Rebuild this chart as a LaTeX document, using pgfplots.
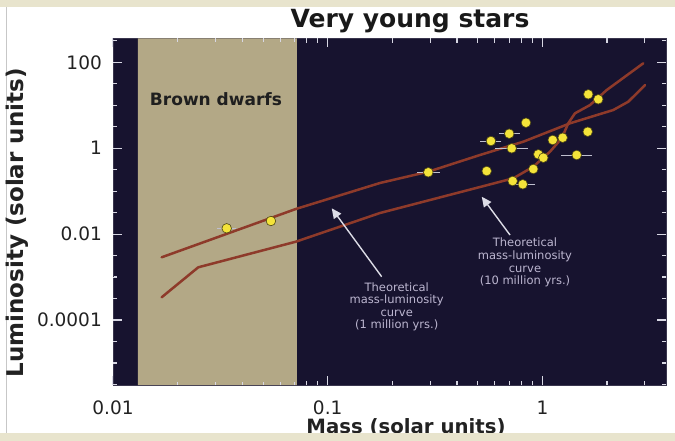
\documentclass[border=0pt]{standalone}
\usepackage{fontspec}
\setmainfont{DejaVu Sans}
\usepackage{pgfplots}
\pgfplotsset{compat=1.18}
\usetikzlibrary{arrows.meta}
\definecolor{navy}{HTML}{17132F}
\definecolor{tanbox}{HTML}{B3A886}
\definecolor{curvec}{HTML}{8E3A2A}
\definecolor{starfill}{HTML}{F4E33A}
\definecolor{staredge}{HTML}{4A4515}
\definecolor{errc}{HTML}{BFBFCF}
\definecolor{annot}{HTML}{BCB6D0}
\definecolor{arrowc}{HTML}{DCDCE6}
\definecolor{tickc}{HTML}{D8D8E4}
\definecolor{beige}{HTML}{E8E4CD}
\definecolor{labc}{HTML}{222222}
\begin{document}
\begin{tikzpicture}
\path[use as bounding box] (0,0) rectangle (675bp,441bp);
\draw[black!22, line width=0.8bp] (6.7bp,8bp) -- (6.7bp,434bp);
\node[anchor=base, font=\bfseries\fontsize{25bp}{30bp}\selectfont, text=black!90] at (410bp,413bp) {Very young stars};
\begin{axis}[
  at={(113bp,56bp)}, anchor=south west,
  scale only axis, width=553bp, height=346.7bp,
  xmode=log, ymode=log,
  xmin=0.01, xmax=3.765, ymin=3.07e-6, ymax=362,
  axis background/.style={fill=navy},
  axis line style={draw=navy!85!white},
  xtick={0.01,0.1,1}, xticklabels={0.01,0.1,1},
  minor xtick={0.02,0.03,0.04,0.05,0.06,0.07,0.08,0.09,0.2,0.3,0.4,0.5,0.6,0.7,0.8,0.9,2,3},
  ytick={1e-4,1e-2,1,100}, yticklabels={0.0001,0.01,1,100},
  minor ytick={3.162e-6,1e-5,3.162e-5,3.162e-4,1e-3,3.162e-3,3.162e-2,0.1,0.3162,3.162,10,31.62,316.2},
  every tick/.style={tickc, line width=1.2bp},
  major tick length=9bp, minor tick length=4.5bp,
  xticklabel style={anchor=north, inner sep=0pt, yshift=-16bp, text=labc, font=\fontsize{18.5bp}{22bp}\selectfont},
  yticklabel style={anchor=east, inner sep=0pt, xshift=-11bp, text=labc, font=\fontsize{18.5bp}{22bp}\selectfont},
]
% brown dwarf region
\addplot[fill=tanbox, draw=none] coordinates {(0.01306,3.07e-6) (0.01306,362) (0.0719,362) (0.0719,3.07e-6) (0.01306,3.07e-6)};
% tick marks, lengths in fixed units
\pgfplotsinvokeforeach{1e-4,1e-2,1,100}{
  \draw[tickc, line width=1.2bp] (axis cs:0.01,#1) -- ([xshift=9bp]axis cs:0.01,#1);
  \draw[tickc, line width=1.2bp] (axis cs:3.765,#1) -- ([xshift=-9bp]axis cs:3.765,#1);
}
\pgfplotsinvokeforeach{3.162e-6,1e-5,3.162e-5,3.162e-4,1e-3,3.162e-3,3.162e-2,0.1,0.3162,3.162,10,31.62,316.2}{
  \draw[tickc, line width=1.1bp] (axis cs:0.01,#1) -- ([xshift=4.5bp]axis cs:0.01,#1);
  \draw[tickc, line width=1.1bp] (axis cs:3.765,#1) -- ([xshift=-4.5bp]axis cs:3.765,#1);
}
\pgfplotsinvokeforeach{0.1,1}{
  \draw[tickc, line width=1.2bp] (axis cs:#1,3.07e-6) -- ([yshift=7bp]axis cs:#1,3.07e-6);
  \draw[tickc, line width=1.2bp] (axis cs:#1,362) -- ([yshift=-7bp]axis cs:#1,362);
}
\pgfplotsinvokeforeach{0.02,0.03,0.04,0.05,0.06,0.07,0.08,0.09,0.2,0.3,0.4,0.5,0.6,0.7,0.8,0.9,2,3}{
  \draw[tickc, line width=1.1bp] (axis cs:#1,3.07e-6) -- ([yshift=3.5bp]axis cs:#1,3.07e-6);
  \draw[tickc, line width=1.1bp] (axis cs:#1,362) -- ([yshift=-3.5bp]axis cs:#1,362);
}
% 1 million yrs curve
\addplot[curvec, line width=2.5bp, line join=round, line cap=round] coordinates {
(0.01685,0.002884) (0.0710,0.0384) (0.1752,0.1549) (0.2941,0.2838) (0.5123,0.695)
(0.8147,1.417) (1.345,3.80) (2.139,7.75) (2.513,12.1) (3.006,29.6)};
% 10 million yrs curve
\addplot[curvec, line width=2.5bp, line join=round, line cap=round] coordinates {
(0.01685,0.000338) (0.02495,0.001687) (0.0710,0.00665) (0.1752,0.031) (0.5123,0.125)
(0.732,0.199) (0.907,0.371) (1.085,0.829) (1.230,1.70) (1.320,3.80) (1.418,6.49)
(1.666,10.1) (1.993,22.6) (2.951,94.8)};
% stars with horizontal error bars
\addplot[only marks, mark=*, mark size=4.8bp, mark options={fill=starfill, draw=staredge, line width=0.6bp},
  error bars/.cd, x dir=both, x explicit,
  error bar style={color=errc, line width=0.9bp},
  error mark options={color=errc, line width=0.9bp, mark size=3.5bp}]
coordinates {
(0.03385,0.01365) += (0.00225,0) -= (0.00211,0)
(0.2941,0.275) += (0.0264,0) -= (0.0242,0)
(0.576,1.471) += (0.0449,0) -= (0.0417,0)
(0.701,2.176) += (0.0547,0) -= (0.0507,0)
(0.7194,0.995) += (0.108,0) -= (0.0938,0)
(0.81,0.1444) += (0.082,0) -= (0.074,0)
(1.445,0.695) += (0.198,0) -= (0.174,0)
};
% stars without error bars
\addplot[only marks, mark=*, mark size=4.8bp, mark options={fill=starfill, draw=staredge, line width=0.6bp}]
coordinates {
(0.0544,0.0202) (0.5503,0.294) (0.8386,3.92) (0.727,0.1723) (0.907,0.328)
(0.957,0.721) (1.01,0.601) (1.117,1.552) (1.243,1.756) (1.636,17.98)
(1.821,13.76) (1.626,2.42)};
% labels and arrows
\node[font=\bfseries\fontsize{17bp}{20bp}\selectfont, text=black!88] at (axis cs:0.03018,13.98) {Brown dwarfs};
\draw[arrowc, line width=1.4bp, -{Triangle[length=10bp,width=9bp]}] (axis cs:0.1784,0.00102) -- (axis cs:0.1044,0.0399);
\draw[arrowc, line width=1.4bp, -{Triangle[length=10bp,width=9bp]}] (axis cs:0.7066,0.00953) -- (axis cs:0.5217,0.0743);
\node[align=center, text=annot, font=\fontsize{11.5bp}{12.6bp}\selectfont] at (axis cs:0.2097,2.02e-4)
  {Theoretical\\mass-luminosity\\curve\\(1 million yrs.)};
\node[align=center, text=annot, font=\fontsize{11.5bp}{12.6bp}\selectfont] at (axis cs:0.8297,0.00218)
  {Theoretical\\mass-luminosity\\curve\\(10 million yrs.)};
\end{axis}
\node[anchor=base, font=\bfseries\fontsize{19.7bp}{24bp}\selectfont, text=labc] at (406bp,8bp) {Mass (solar units)};
\node[anchor=base, rotate=90, font=\bfseries\fontsize{23bp}{27bp}\selectfont, text=labc] at (23bp,218bp) {Luminosity (solar units)};
\fill[beige] (0,433.7bp) rectangle (675bp,441bp);
\fill[beige] (0,0) rectangle (675bp,7.5bp);
\end{tikzpicture}
\end{document}
